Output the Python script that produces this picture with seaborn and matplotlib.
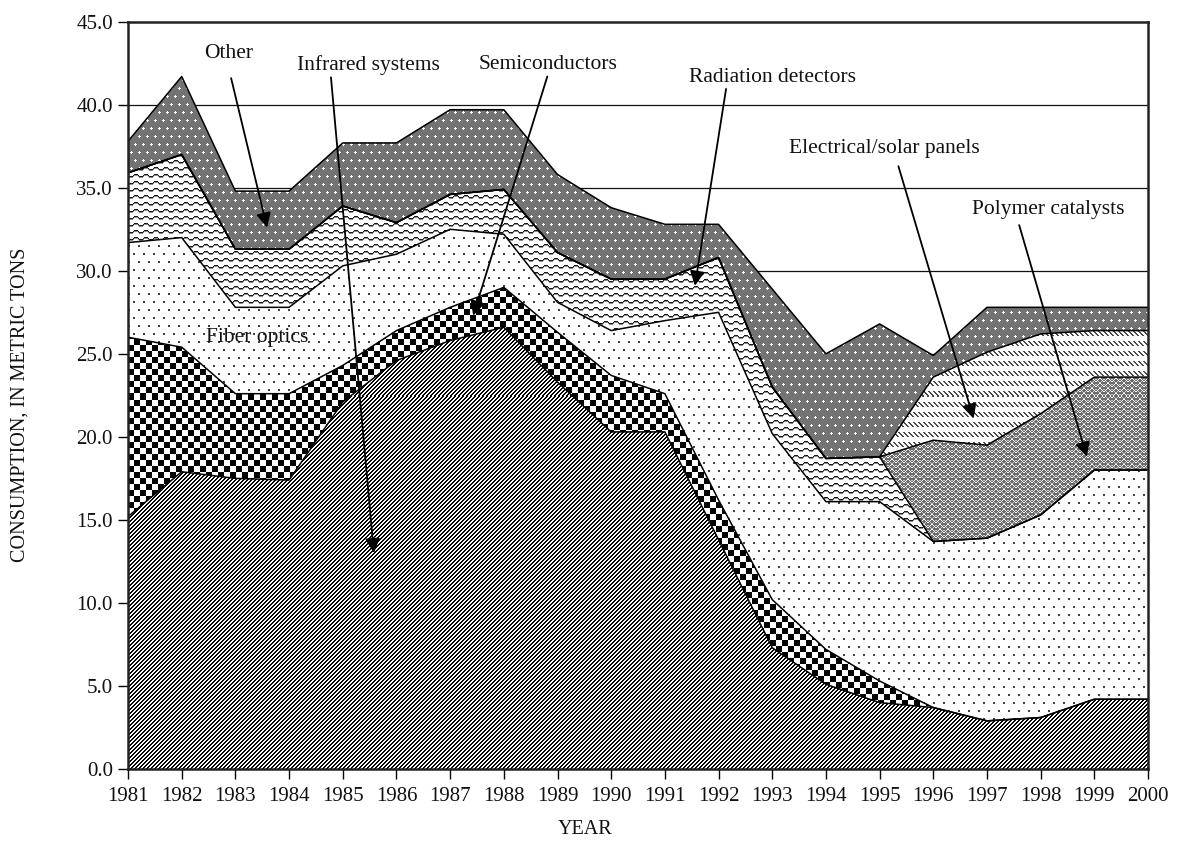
import numpy as np
import matplotlib
matplotlib.use('Agg')
import matplotlib.pyplot as plt
import seaborn as sns

# consumption by end use, metric tons
years = np.arange(1981, 2001)
infrared = [15.2, 17.9, 17.5, 17.4, 22.1, 24.6, 25.8, 26.6, 23.3, 20.3,
            20.3, 13.8, 7.3, 5.1, 4.0, 3.7, 2.9, 3.1, 4.2, 4.2]
semiconductors = [10.8, 7.5, 5.1, 5.2, 2.2, 1.8, 2.0, 2.4, 3.0, 3.4,
                  2.3, 2.4, 2.9, 2.1, 1.3, 0.0, 0.0, 0.0, 0.0, 0.0]
fiber_optics = [5.7, 6.6, 5.2, 5.2, 6.0, 4.6, 4.7, 3.2, 1.8, 2.7,
                4.4, 11.3, 10.0, 8.9, 10.8, 10.0, 11.0, 12.2, 13.8, 13.8]
radiation = [4.2, 5.0, 3.5, 3.5, 3.6, 1.9, 2.1, 2.7, 3.0, 3.1,
             2.5, 3.3, 2.8, 2.6, 2.7, 0.0, 0.0, 0.0, 0.0, 0.0]
polymer = [0.0] * 15 + [6.1, 5.6, 6.1, 5.6, 5.6]
electrical = [0.0] * 15 + [3.8, 5.6, 4.8, 2.8, 2.8]
other = [1.9, 4.7, 3.5, 3.5, 3.8, 4.8, 5.1, 4.8, 4.7, 4.3,
         3.3, 2.0, 5.9, 6.3, 8.0, 1.3, 2.7, 1.6, 1.4, 1.4]

layers = [infrared, semiconductors, fiber_optics, radiation,
          polymer, electrical, other]
pattern_names = ['diag', 'checker', 'dots', 'wavy', 'herring', 'dashes', 'gray_dots']

y_ticks = np.arange(0, 50, 5)


def make_textures(h, w):
    """bitmap fill patterns, one pixel per output pixel"""
    yy, xx = np.mgrid[0:h, 0:w]
    tex = {}
    tex['diag'] = np.where((xx + yy) % 4 < 2, 0.0, 1.0)
    tex['checker'] = np.where((xx // 6 + yy // 6) % 2 == 0, 0.0, 1.0)

    off = (yy // 8 % 2) * 5
    dots = ((yy % 8) < 2) & (((xx + off) % 10) < 2)
    tex['dots'] = np.where(dots, 0.25, 1.0)

    wave = np.round(1.4 * np.sin(2 * np.pi * xx / 10.0)).astype(int)
    wv = (yy - wave) % 7
    tex['wavy'] = np.where(wv == 0, 0.1, np.where(wv == 1, 0.55, 1.0))

    t = xx % 8
    tri = np.where(t < 4, t, 7 - t)
    hb = (yy + tri) % 5 == 0
    hb2 = (yy - tri + 2) % 5 == 0
    tex['herring'] = np.where(hb, 1.0, np.where(hb2, 0.8, 0.42))

    r = yy % 10
    dash = (r < 5) & (((xx - r) % 5) < 2)
    tex['dashes'] = np.where(dash, 0.3, 1.0)

    off2 = (yy // 8 % 2) * 4
    cx = (xx + off2) % 8
    cy = yy % 8
    plus = ((cx == 3) & (cy >= 2) & (cy <= 4)) | ((cy == 3) & (cx >= 2) & (cx <= 4))
    tex['gray_dots'] = np.where(plus, 1.0, 0.45)
    return tex


sns.set_theme(style='white')
plt.rcParams['font.family'] = ['Liberation Serif', 'DejaVu Serif']

fig = plt.figure(figsize=(11.8, 8.41), dpi=100)
ax = fig.add_axes([0.1085, 0.0856, 0.8644, 0.8886])
ax.set_xlim(1981, 2000)
ax.set_ylim(0, 45)

for yv in y_ticks[1:-1]:
    ax.axhline(yv, color='#111111', lw=0.9, zorder=0)

polys = ax.stackplot(years, *layers, colors=['white'] * len(layers),
                     linewidth=0, zorder=1)

w_px = int(round(0.8644 * 1180))
h_px = int(round(0.8886 * 841))
textures = make_textures(h_px, w_px)
for poly, name in zip(polys, pattern_names):
    im = ax.imshow(textures[name], cmap='gray', vmin=0, vmax=1,
                   extent=(1981, 2000, 0, 45), origin='upper',
                   interpolation='nearest', aspect='auto', zorder=1.5)
    im.set_clip_path(poly.get_paths()[0], ax.transData)

# outlines of every band
cum = np.cumsum(np.array(layers), axis=0)
for top in cum:
    sns.lineplot(x=years, y=top, color='black', lw=1.1, ax=ax, zorder=2)

ax.set_xlim(1981, 2000)
ax.set_ylim(0, 45)
ax.set_xticks(years)
ax.set_xticklabels([str(y) for y in years])
ax.set_yticks(y_ticks)
ax.set_yticklabels([f'{v:.1f}' for v in y_ticks])
ax.tick_params(axis='both', which='major', direction='out', length=7,
               width=1.0, color='black', labelsize=15, pad=4,
               labelcolor='#111111', left=True, bottom=True)
ax.tick_params(axis='x', pad=6)
for sp in ax.spines.values():
    sp.set_linewidth(1.8)
    sp.set_color('#222222')
    sp.set_zorder(3)

ax.set_xlabel('YEAR', fontsize=14.5, color='#111111')
ax.xaxis.label.set_va('center')
ax.xaxis.set_label_coords(0.448, -0.0805)
ax.set_ylabel('CONSUMPTION, IN METRIC TONS', fontsize=14.5, color='#111111')
ax.yaxis.label.set_va('center')
ax.yaxis.set_label_coords(-0.106, 0.487)

# callouts: label, text position, arrow start, arrow tip
callouts = [
    ('Other', (1982.88, 43.1), (1982.92, 41.6), (1983.59, 32.6)),
    ('Infrared systems', (1985.47, 42.4), (1984.78, 41.65), (1985.58, 13.0)),
    ('Semiconductors', (1988.82, 42.4), (1988.81, 41.7), (1987.43, 27.3)),
    ('Radiation detectors', (1993.01, 41.65), (1992.14, 40.95), (1991.56, 29.1)),
    ('Electrical/solar panels', (1995.08, 37.35), (1995.35, 36.3), (1996.75, 21.1)),
    ('Polymer catalysts', (1998.15, 33.7), (1997.60, 32.75), (1998.86, 18.8)),
]
for text, txy, start, tip in callouts:
    ax.text(txy[0], txy[1], text, fontsize=15.5, ha='center', va='center',
            color='#111111', zorder=4)
    ax.annotate('', xy=tip, xytext=start, zorder=4,
                arrowprops=dict(arrowstyle='-|>', color='black', lw=1.3,
                                mutation_scale=22, shrinkA=0, shrinkB=0))

ax.text(1983.40, 26.0, 'Fiber optics', fontsize=15.5, ha='center',
        va='center', color='#111111', zorder=4)

fig.savefig('out.png', dpi=100)
